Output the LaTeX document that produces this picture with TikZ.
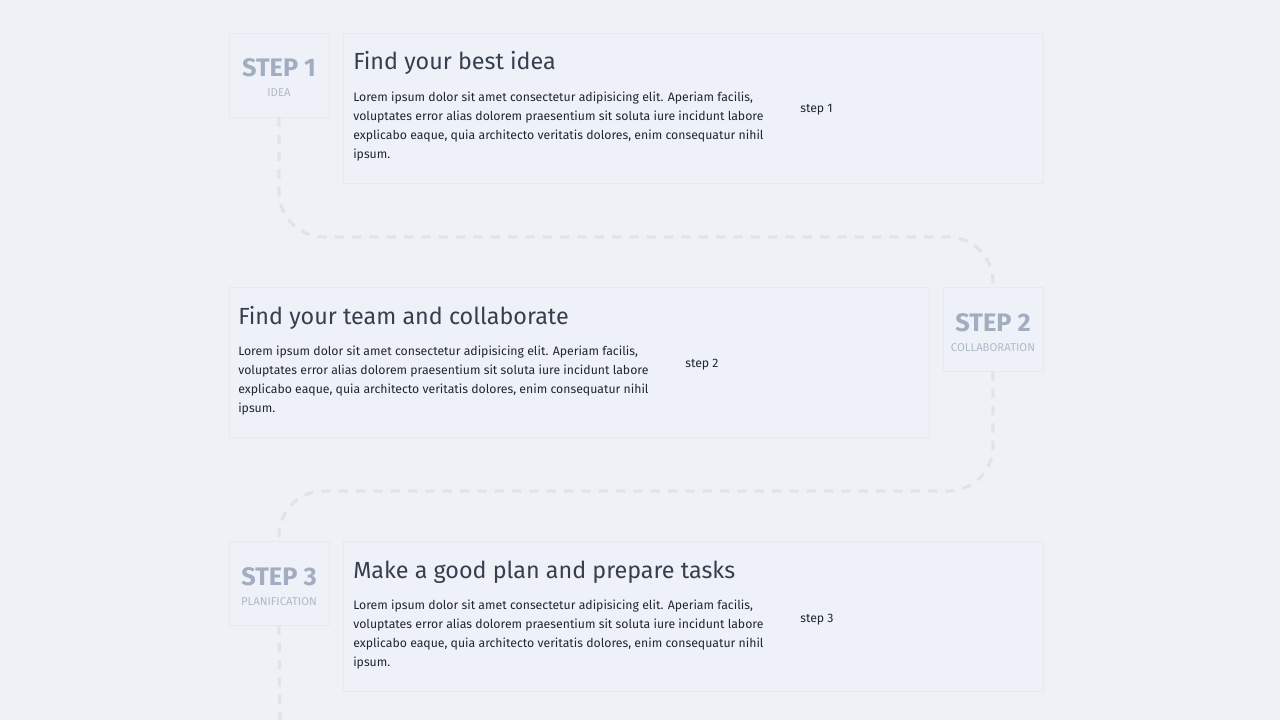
\documentclass[tikz,border=0pt]{standalone}
\usepackage{fontspec}
\setmainfont{Fira Sans}
\usetikzlibrary{positioning}
\definecolor{pagebg}{HTML}{EEF2F7}
\definecolor{boxbg}{HTML}{EEF2F8}
\definecolor{boxline}{HTML}{E6EAF0}
\definecolor{trail}{HTML}{DFE4EB}
\definecolor{stepgray}{HTML}{A2ADC0}
\definecolor{subgray}{HTML}{B0BAC7}
\definecolor{titlegray}{HTML}{363F4E}
\definecolor{bodygray}{HTML}{1F2633}
\def\px{0.75pt}
\newcommand{\lorem}{Lorem ipsum dolor sit amet consectetur adipisicing elit. Aperiam facilis,\\
voluptates error alias dolorem praesentium sit soluta iure incidunt labore\\
explicabo eaque, quia architecto veritatis dolores, enim consequatur nihil\\
ipsum.}
\begin{document}
\begin{tikzpicture}[x=0.75pt,y=-0.75pt,
  stepbox/.style={draw=boxline,fill=boxbg,line width=0.6pt,minimum width=100*\px,minimum height=84*\px},
  cardbox/.style={draw=boxline,fill=boxbg,line width=0.6pt,minimum width=700*\px,minimum height=150*\px},
  steplabel/.style={text=stepgray,font=\bfseries\fontsize{19}{20}\selectfont,anchor=base},
  sublabel/.style={text=subgray,font=\fontsize{8.5}{9}\selectfont,anchor=base},
  cardtitle/.style={text=titlegray,font=\fontsize{17.5}{20}\selectfont,anchor=base west,inner sep=0pt},
  cardtext/.style={text=bodygray,font=\fontsize{9.2}{14.25}\selectfont,align=left,anchor=north west,inner sep=0pt},
  note/.style={text=bodygray,font=\fontsize{9.2}{11}\selectfont,anchor=base west,inner sep=0pt},
  trailline/.style={draw=trail,line width=2.4pt,dash pattern=on 7pt off 6pt,rounded corners=45*\px}]
\fill[pagebg] (0,0) rectangle (1280,720);
\useasboundingbox (0,0) rectangle (1280,720);
% trail between the steps
\coordinate (bend1) at (640,237);
\coordinate (bend2) at (640,491);
\coordinate (tail) at (280,720);
% step 1
\node[stepbox] (s1) at (279,75) {};
\node[cardbox] (c1) at (693,108) {};
\node[steplabel] (s1a) at (279,77) {STEP 1};
\node[sublabel] (s1b) at (279,97) {IDEA};
\node[cardtitle] (t1) at (353,70) {Find your best idea};
\node[cardtext] (p1) at (353,92) {\lorem};
\node[note] (n1) at (800,113) {step 1};
% step 2
\node[cardbox] (c2) at (579,362) {};
\node[stepbox] (s2) at (993,329) {};
\node[steplabel] (s2a) at (993,331) {STEP 2};
\node[sublabel] (s2b) at (993,351) {COLLABORATION};
\node[cardtitle] (t2) at (238,324) {Find your team and collaborate};
\node[cardtext] (p2) at (238,346) {\lorem};
\node[note] (n2) at (685,367) {step 2};
% step 3
\node[stepbox] (s3) at (279,583) {};
\node[cardbox] (c3) at (693,616) {};
\node[steplabel] (s3a) at (279,585) {STEP 3};
\node[sublabel] (s3b) at (279,605) {PLANIFICATION};
\node[cardtitle] (t3) at (353,578) {Make a good plan and prepare tasks};
\node[cardtext] (p3) at (353,600) {\lorem};
\node[note] (n3) at (800,622) {step 3};
\draw[trailline] (s1.south) |- (bend1) -| (s2.north);
\draw[trailline] (s2.south) |- (bend2) -| (s3.north);
\draw[trailline] (s3.south) -- (tail);
\end{tikzpicture}
\end{document}
